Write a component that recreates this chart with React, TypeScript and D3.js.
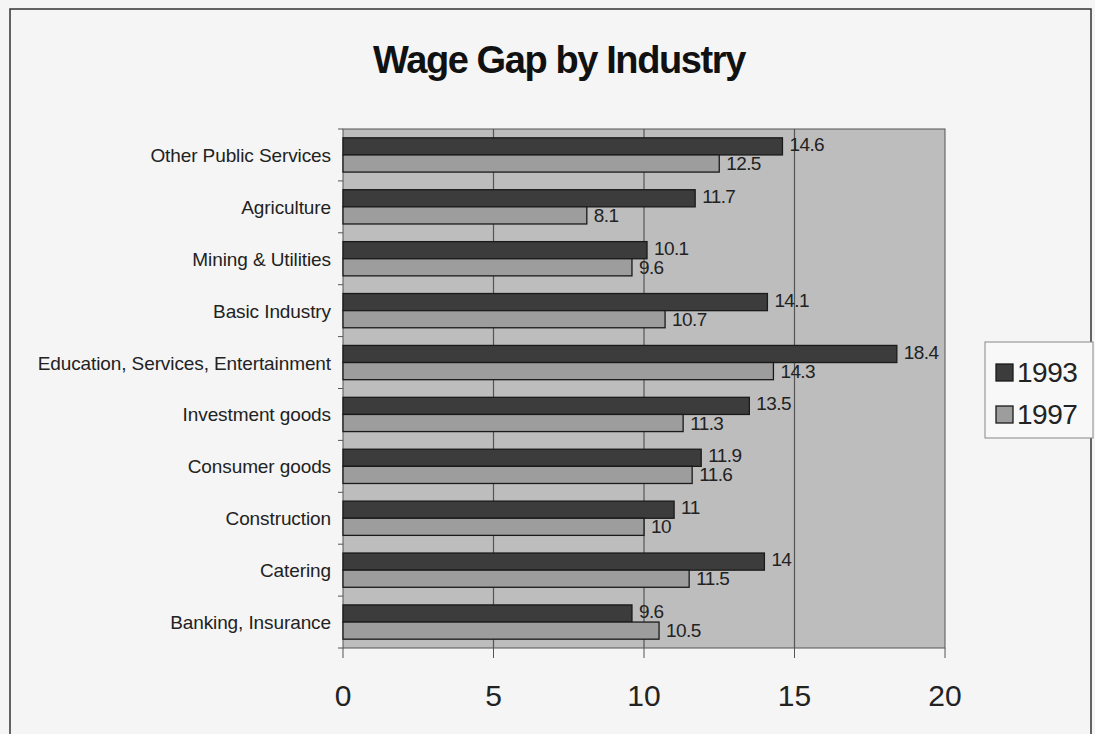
import React from "react";
import * as d3 from "d3";

const categories = [
  "Other Public Services",
  "Agriculture",
  "Mining & Utilities",
  "Basic Industry",
  "Education, Services, Entertainment",
  "Investment goods",
  "Consumer goods",
  "Construction",
  "Catering",
  "Banking, Insurance",
];
const v1993 = [14.6, 11.7, 10.1, 14.1, 18.4, 13.5, 11.9, 11, 14, 9.6];
const v1997 = [12.5, 8.1, 9.6, 10.7, 14.3, 11.3, 11.6, 10, 11.5, 10.5];
const seriesNames = ["1993", "1997"];
const xTicks = [0, 5, 10, 15, 20];

export default function App() {
  const W = 1095, H = 734;
  const left = 343, right = 945, top = 129, bottom = 648;
  const x = d3.scaleLinear().domain([0, 20]).range([left, right]);
  const y = d3.scaleBand<string>().domain(categories).range([top, bottom]).paddingInner(0.34).paddingOuter(0.17);
  const bh = y.bandwidth() / 2;
  const colors = ["#3c3c3c", "#9d9d9d"];
  const series = [v1993, v1997];
  const font = "Liberation Sans, Arial, sans-serif";
  return (
    <div style={{ position: "absolute", left: 0, top: 0 }}>
      <svg width={W} height={H} style={{ display: "block", background: "#f5f5f5" }}>
        <rect x={10} y={9} width={1081} height={740} fill="#f5f5f5" stroke="#333" strokeWidth={1.5} />
        <text x={559} y={73} textAnchor="middle" fontFamily={font} fontWeight="bold" fontSize={38} letterSpacing={-1.4} fill="#111">
          Wage Gap by Industry
        </text>
        <rect x={left} y={top} width={right - left} height={bottom - top} fill="#bdbdbd" stroke="#555" strokeWidth={1} />
        {xTicks.slice(1, -1).map((t) => (
          <line key={t} x1={x(t)} x2={x(t)} y1={top} y2={bottom} stroke="#555" strokeWidth={1.2} />
        ))}
        {categories.map((c, i) => (
          <g key={c}>
            {series.map((s, k) => {
              const yy = (y(c) as number) + k * bh;
              return (
                <g key={k}>
                  <rect x={x(0)} y={yy} width={x(s[i]) - x(0)} height={bh} fill={colors[k]} stroke="#1a1a1a" strokeWidth={1.3} />
                  <text x={x(s[i]) + 7} y={yy + bh - (k === 0 ? 4 : 2)} fontFamily={font} fontSize={19} letterSpacing={-0.6} fill="#222">
                    {String(s[i])}
                  </text>
                </g>
              );
            })}
            <text x={331} y={(y(c) as number) + y.bandwidth() / 2 + 7} textAnchor="end" fontFamily={font} fontSize={19} letterSpacing={-0.1} fill="#222">
              {c}
            </text>
          </g>
        ))}
        {d3.range(categories.length + 1).map((i) => {
          const yy = top + (i * (bottom - top)) / categories.length;
          return <line key={i} x1={left - 5} x2={left} y1={yy} y2={yy} stroke="#555" />;
        })}
        {xTicks.map((t) => (
          <g key={t}>
            <line x1={x(t)} x2={x(t)} y1={bottom} y2={bottom + 10} stroke="#555" />
            <text x={x(t)} y={706} textAnchor="middle" fontFamily={font} fontSize={30} fill="#222">
              {t}
            </text>
          </g>
        ))}
        <rect x={985} y={342} width={108} height={96} fill="#f8f8f8" stroke="#888" strokeWidth={1} />
        {seriesNames.map((n, k) => (
          <g key={n}>
            <rect x={996} y={364 + k * 42} width={17} height={17} fill={colors[k]} stroke="#1a1a1a" strokeWidth={1.3} />
            <text x={1017} y={382 + k * 42} fontFamily={font} fontSize={28} letterSpacing={-0.5} fill="#222">
              {n}
            </text>
          </g>
        ))}
      </svg>
    </div>
  );
}
